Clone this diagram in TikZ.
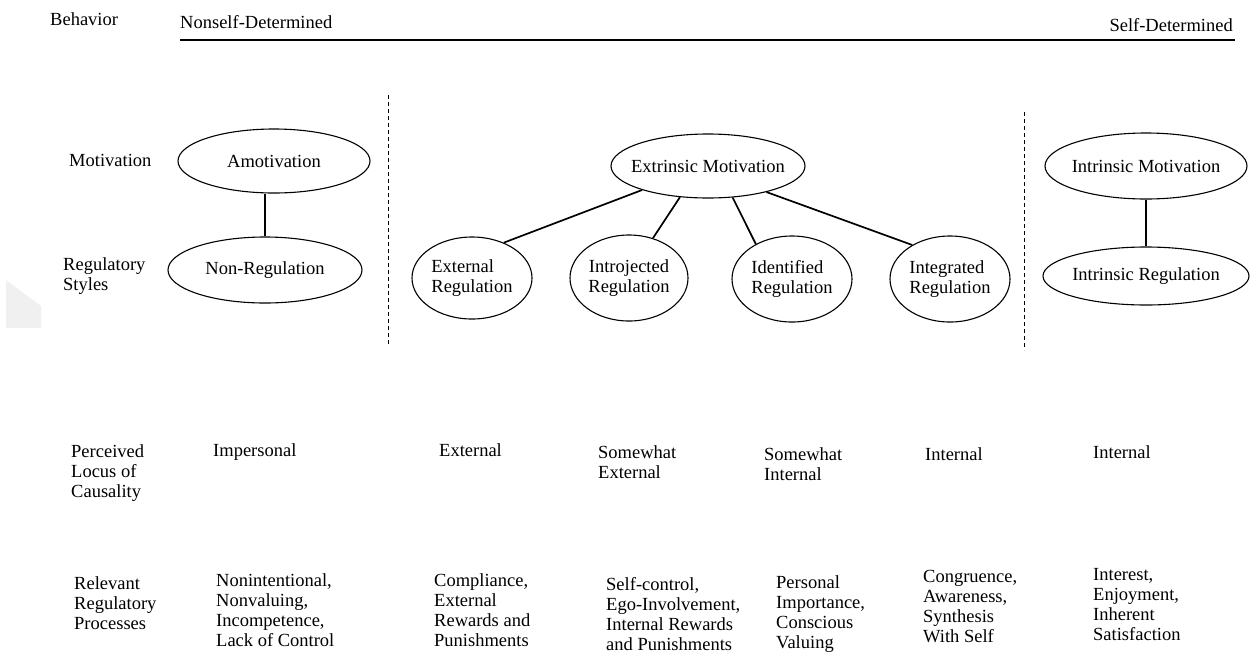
\documentclass[tikz,border=0pt]{standalone}
\usepackage{fontspec}
\setmainfont{Liberation Serif}
\usetikzlibrary{shapes.geometric}
\begin{document}
\begin{tikzpicture}[x=1pt,y=-1pt,
  every node/.style={font=\fontsize{18.5}{20}\selectfont, inner sep=0pt},
  lbl/.style={anchor=base west},
  blk/.style={anchor=north west, align=left},
  ell/.style={draw, ellipse, line width=1.1pt, inner xsep=-20pt, inner ysep=0pt},
  conn/.style={line width=1.1pt},
  thickconn/.style={line width=1.7pt},
  divider/.style={line width=1pt, dash pattern=on 4pt off 3pt},
  axisline/.style={line width=2pt}]
\useasboundingbox (0,0) rectangle (1251,657);
% faint watermark
\fill[black!6] (6,280) -- (41,306) -- (41,328) -- (6,328) -- cycle;

% header
\node[lbl] (beh) at (50,25) {Behavior};
\node[lbl] (nsd) at (180,28) {Nonself-Determined};
\node[anchor=base east] (sd) at (1233,31) {Self-Determined};
\coordinate (axL) at (180,39.5);
\coordinate (axR) at (1235,39.5);
\draw[axisline] (axL) -- (axR);

% dividers
\coordinate (d1t) at (388,95);
\coordinate (d1b) at (388,345);
\coordinate (d2t) at (1024,112);
\coordinate (d2b) at (1024,350);
\draw[divider] (d1t) -- (d1b);
\draw[divider] (d2t) -- (d2b);

% row labels
\node[lbl] (motlbl) at (69,166) {Motivation};
\node[blk] (reglbl) at (63,257.5) {Regulatory\\Styles};

% ellipses
\node[ell, minimum width=192pt, minimum height=64pt] (amo) at (274,161) {Amotivation};
\node[ell, minimum width=194pt, minimum height=66pt] (nonreg) at (265,270) {Non-Regulation};
\node[ell, minimum width=194pt, minimum height=64pt] (ext) at (708,166) {Extrinsic Motivation};
\node[ell, align=left, minimum width=120pt, minimum height=82pt] (extreg) at (472,278) {External\\Regulation};
\node[ell, align=center, minimum width=118pt, minimum height=86pt] (introreg) at (629,278) {Introjected\\Regulation};
\node[ell, align=left, minimum width=120pt, minimum height=86pt] (identreg) at (792,279) {Identified\\Regulation};
\node[ell, align=left, minimum width=120pt, minimum height=86pt] (integreg) at (950,279) {Integrated\\Regulation};
\node[ell, minimum width=202pt, minimum height=66pt] (intmot) at (1146,166) {Intrinsic Motivation};
\node[ell, minimum width=206pt, minimum height=58pt] (intreg) at (1146,276) {Intrinsic Regulation};

% connectors
\draw[conn] (amo.south -| nonreg.north) -- (nonreg.north);
\draw[conn] (intmot.south) -- (intreg.north);
\draw[thickconn] (ext.200) -- (extreg.48);
\draw[thickconn] (ext.228) -- (introreg.59);
\draw[thickconn] (ext.308) -- (identreg.136);
\draw[thickconn] (ext.336) -- (integreg.138);

% perceived locus of causality
\node[blk] (plc) at (71,444.5) {Perceived\\Locus of\\Causality};
\node[lbl] (plc1) at (213,456) {Impersonal};
\node[lbl] (plc2) at (439,456) {External};
\node[blk] (plc3) at (598,445.5) {Somewhat\\External};
\node[blk] (plc4) at (764,447.5) {Somewhat\\Internal};
\node[lbl] (plc5) at (925,460) {Internal};
\node[lbl] (plc6) at (1093,458) {Internal};

% relevant regulatory processes
\node[blk] (rrp) at (74,576.5) {Relevant\\Regulatory\\Processes};
\node[blk] (rrp1) at (216,573.5) {Nonintentional,\\Nonvaluing,\\Incompetence,\\Lack of Control};
\node[blk] (rrp2) at (434,573.5) {Compliance,\\External\\Rewards and\\Punishments};
\node[blk] (rrp3) at (606,577.5) {Self-control,\\Ego-Involvement,\\Internal Rewards\\and Punishments};
\node[blk] (rrp4) at (776,575.5) {Personal\\Importance,\\Conscious\\Valuing};
\node[blk] (rrp5) at (923,570.5) {Congruence,\\Awareness,\\Synthesis\\With Self};
\node[blk] (rrp6) at (1093,568.5) {Interest,\\Enjoyment,\\Inherent\\Satisfaction};
\end{tikzpicture}
\end{document}
